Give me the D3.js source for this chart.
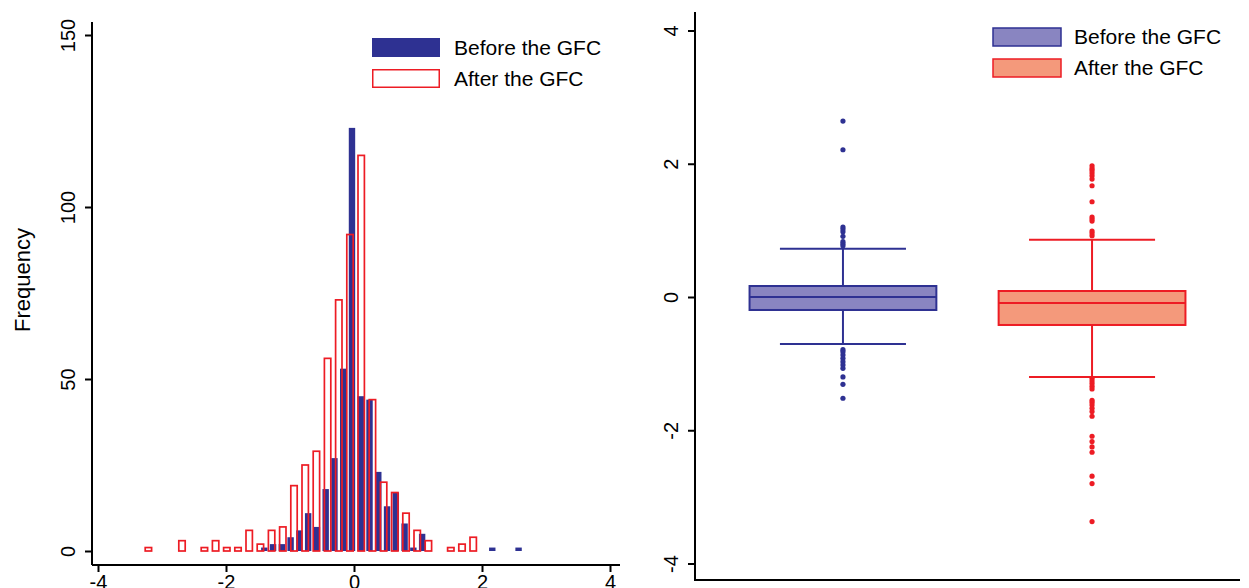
<!DOCTYPE html>
<html>
<head>
<meta charset="utf-8">
<script src="https://cdn.jsdelivr.net/npm/d3@7"></script>
<style>
  body { margin: 0; background: #fff; }
  svg { display: block; font-family: "Liberation Sans", Arial, sans-serif; }
</style>
</head>
<body>
<svg width="1249" height="588"></svg>
<script>
// histogram: bin start, bin width and counts per bin
var beforeStart = -1.47, beforeWidth = 0.137;
var beforeCounts = [1, 2, 2, 4, 6, 11, 7, 18, 27, 53, 123, 45, 44, 23, 13, 17, 8, 1, 5,
                    0, 0, 0, 0, 0, 0, 0, 1, 0, 0, 1];
var afterStart = -3.30, afterWidth = 0.175;
var afterCounts = [1, 0, 0, 3, 0, 1, 3, 1, 1, 6, 2, 6, 7, 19, 25, 29, 56, 73, 92, 115,
                   44, 20, 17, 11, 6, 3, 0, 1, 2, 4];
var histXTicks = [-4, -2, 0, 2, 4];
var histYTicks = [0, 50, 100, 150];

// box plot summaries
var groups = ["Before the GFC", "After the GFC"];
var q1 = [-0.195, -0.42];
var median = [0.0, -0.09];
var q3 = [0.165, 0.09];
var whiskerLow = [-0.705, -1.2];
var whiskerHigh = [0.725, 0.86];
var outliersBefore = [2.64, 2.21, 1.05, 1.02, 0.98, 0.91, 0.83, 0.80, 0.77,
                      -0.79, -0.82, -0.87, -0.92, -0.97, -1.02, -1.07, -1.20, -1.31, -1.52];
var outliersAfter = [1.97, 1.93, 1.90, 1.86, 1.82, 1.77, 1.67, 1.43, 1.20, 1.17, 1.14, 0.99, 0.96, 0.92,
                     -1.22, -1.26, -1.30, -1.34, -1.38, -1.55, -1.58, -1.62, -1.67, -1.72, -1.79,
                     -2.09, -2.17, -2.25, -2.33, -2.69, -2.80, -3.37];
var boxYTicks = [-4, -2, 0, 2, 4];

var navy = "#2e3192", red = "#ed1c24";
var navyFill = "#8985c1", redFill = "#f4997b";

var svg = d3.select("svg");

// ---------- left: histogram ----------
var x = d3.scaleLinear().domain([-4, 4]).range([98, 610]);
var y = d3.scaleLinear().domain([0, 150]).range([551, 35]);
var barW = 0.1;

var left = svg.append("g");

function bins(start, width, counts) {
    return counts.map(function (c, i) {
        return { mid: start + width * (i + 0.5), count: c };
    }).filter(function (d) { return d.count > 0; });
}

left.selectAll("rect.before")
    .data(bins(beforeStart, beforeWidth, beforeCounts))
    .enter().append("rect")
    .attr("class", "before")
    .attr("x", function (d) { return x(d.mid - barW / 2); })
    .attr("width", function (d) { return x(d.mid + barW / 2) - x(d.mid - barW / 2); })
    .attr("y", function (d) { return y(d.count); })
    .attr("height", function (d) { return y(0) - y(d.count); })
    .attr("fill", navy);

left.selectAll("rect.after")
    .data(bins(afterStart, afterWidth, afterCounts))
    .enter().append("rect")
    .attr("class", "after")
    .attr("x", function (d) { return x(d.mid - barW / 2); })
    .attr("width", function (d) { return x(d.mid + barW / 2) - x(d.mid - barW / 2); })
    .attr("y", function (d) { return y(d.count); })
    .attr("height", function (d) { return y(0) - y(d.count); })
    .attr("fill", "none")
    .attr("stroke", red)
    .attr("stroke-width", 1.7);

// axes
var xAxis = d3.axisBottom(x).tickValues(histXTicks).tickSize(7).tickPadding(3)
    .tickFormat(function (d) { return d; });
var gx = left.append("g").attr("transform", "translate(0,565)").call(xAxis);
gx.select(".domain").attr("d", "M92,0H620");

var yAxis = d3.axisLeft(y).tickValues(histYTicks).tickSize(7).tickFormat(function (d) { return d; });
var gy = left.append("g").attr("transform", "translate(92,0)").call(yAxis);
gy.select(".domain").attr("d", "M0,22V565");

[gx, gy].forEach(function (g) {
    g.select(".domain").attr("stroke", "#000").attr("stroke-width", 2);
    g.selectAll(".tick line").attr("stroke", "#000").attr("stroke-width", 2);
    g.selectAll("text").attr("font-size", 20).attr("fill", "#000")
        .attr("font-family", "Liberation Sans, Arial, sans-serif");
});
gy.selectAll(".tick text")
    .attr("x", null).attr("dy", null)
    .attr("text-anchor", "middle")
    .attr("transform", "translate(-17,0) rotate(-90)");

left.append("text")
    .attr("transform", "translate(30,280) rotate(-90)")
    .attr("text-anchor", "middle")
    .attr("font-size", 22)
    .text("Frequency");

// legend
var legL = left.append("g");
legL.append("rect").attr("x", 372).attr("y", 38).attr("width", 68).attr("height", 19).attr("fill", navy);
legL.append("rect").attr("x", 372.75).attr("y", 69.75).attr("width", 66.5).attr("height", 17.5)
    .attr("fill", "none").attr("stroke", red).attr("stroke-width", 1.5);
legL.append("text").attr("x", 454).attr("y", 55).attr("font-size", 21).text(groups[0]);
legL.append("text").attr("x", 454).attr("y", 86).attr("font-size", 21).text(groups[1]);

// ---------- right: box plot ----------
var bx = d3.scalePoint().domain(groups).range([695, 1240]).padding(0.594);
var by = d3.scaleLinear().domain([-4, 4]).range([563.5, 30.5]);
var step = bx.step();
var right = svg.append("g");

var boxes = groups.map(function (g, i) {
    return { name: g, q1: q1[i], med: median[i], q3: q3[i], lo: whiskerLow[i], hi: whiskerHigh[i],
             out: i === 0 ? outliersBefore : outliersAfter,
             stroke: i === 0 ? navy : red, fill: i === 0 ? navyFill : redFill };
});

var bg = right.selectAll("g.box").data(boxes).enter().append("g").attr("class", "box");

bg.append("line")
    .attr("x1", function (d) { return bx(d.name); })
    .attr("x2", function (d) { return bx(d.name); })
    .attr("y1", function (d) { return by(d.hi); })
    .attr("y2", function (d) { return by(d.lo); })
    .attr("stroke", function (d) { return d.stroke; })
    .attr("stroke-width", 2);

["hi", "lo"].forEach(function (k) {
    bg.append("line")
        .attr("x1", function (d) { return bx(d.name) - step * 0.253; })
        .attr("x2", function (d) { return bx(d.name) + step * 0.253; })
        .attr("y1", function (d) { return by(d[k]); })
        .attr("y2", function (d) { return by(d[k]); })
        .attr("stroke", function (d) { return d.stroke; })
        .attr("stroke-width", 2);
});

bg.append("rect")
    .attr("x", function (d) { return bx(d.name) - step * 0.375; })
    .attr("width", step * 0.75)
    .attr("y", function (d) { return by(d.q3); })
    .attr("height", function (d) { return by(d.q1) - by(d.q3); })
    .attr("fill", function (d) { return d.fill; })
    .attr("stroke", function (d) { return d.stroke; })
    .attr("stroke-width", 2);

bg.append("line")
    .attr("x1", function (d) { return bx(d.name) - step * 0.375; })
    .attr("x2", function (d) { return bx(d.name) + step * 0.375; })
    .attr("y1", function (d) { return by(d.med); })
    .attr("y2", function (d) { return by(d.med); })
    .attr("stroke", function (d) { return d.stroke; })
    .attr("stroke-width", 2);

bg.each(function (d) {
    d3.select(this).selectAll("circle").data(d.out).enter().append("circle")
        .attr("cx", bx(d.name))
        .attr("cy", function (v) { return by(v); })
        .attr("r", 2.6)
        .attr("fill", d.stroke);
});

var byAxis = d3.axisLeft(by).tickValues(boxYTicks).tickSize(7).tickFormat(function (d) { return d; });
var gby = right.append("g").attr("transform", "translate(695,0)").call(byAxis);
gby.select(".domain").attr("d", "M0,12V580");
right.append("line").attr("x1", 694).attr("x2", 1240).attr("y1", 580).attr("y2", 580)
    .attr("stroke", "#000").attr("stroke-width", 2);
gby.select(".domain").attr("stroke", "#000").attr("stroke-width", 2);
gby.selectAll(".tick line").attr("stroke", "#000").attr("stroke-width", 2);
gby.selectAll(".tick text")
    .attr("font-size", 20).attr("fill", "#000")
    .attr("font-family", "Liberation Sans, Arial, sans-serif")
    .attr("x", null).attr("dy", null)
    .attr("text-anchor", "middle")
    .attr("transform", "translate(-17,0) rotate(-90)");

var legR = right.append("g");
legR.append("rect").attr("x", 993).attr("y", 28).attr("width", 68).attr("height", 18)
    .attr("fill", navyFill).attr("stroke", navy).attr("stroke-width", 1.5);
legR.append("rect").attr("x", 993).attr("y", 59).attr("width", 68).attr("height", 18)
    .attr("fill", redFill).attr("stroke", red).attr("stroke-width", 1.5);
legR.append("text").attr("x", 1074).attr("y", 44).attr("font-size", 21).text(groups[0]);
legR.append("text").attr("x", 1074).attr("y", 75).attr("font-size", 21).text(groups[1]);
</script>
</body>
</html>
